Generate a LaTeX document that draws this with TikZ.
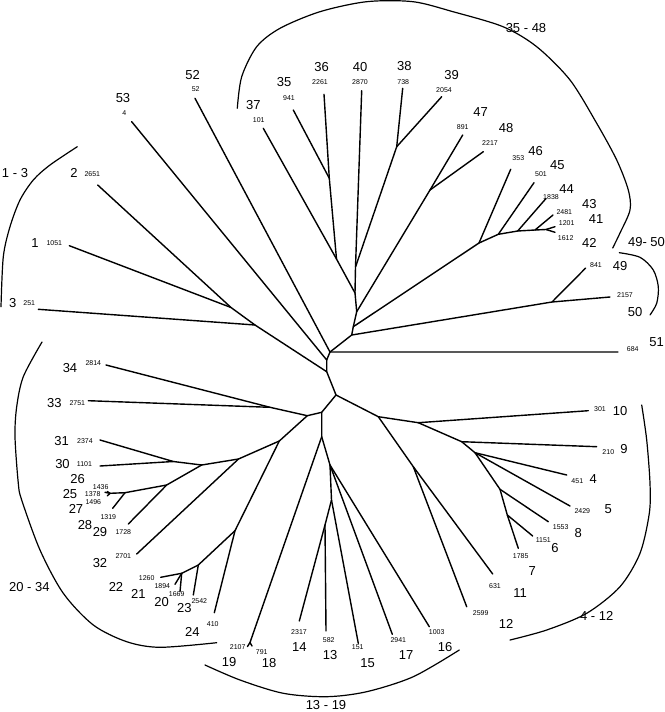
\documentclass[tikz,border=0pt]{standalone}
\usepackage{fontspec}
\setmainfont{Liberation Sans}
\tikzset{
  branch/.style={line width=1.4pt, line cap=round, line join=round},
  bracket/.style={line width=1.2pt, line cap=round},
  idlbl/.style={font=\fontsize{13}{15}\selectfont, inner sep=0pt},
  cntlbl/.style={font=\fontsize{7}{8}\selectfont, inner sep=0pt},
  grplbl/.style={font=\fontsize{13}{15}\selectfont, inner sep=0pt}
}
\begin{document}
\begin{tikzpicture}[x=1pt,y=-1pt]
  \useasboundingbox (0,0) rectangle (664,712);

  % tips
  \coordinate (t1) at (69.3,245.7);
  \coordinate (t2) at (97.7,185);
  \coordinate (t3) at (38.3,309.3);
  \coordinate (t4) at (566.7,475);
  \coordinate (t5) at (570,506);
  \coordinate (t6) at (532.7,536);
  \coordinate (t7) at (518.3,548.3);
  \coordinate (t8) at (548.3,521.7);
  \coordinate (t9) at (596.7,446.7);
  \coordinate (t10) at (588.3,410.7);
  \coordinate (t11) at (492.7,574);
  \coordinate (t12) at (466.7,606.7);
  \coordinate (t13) at (326,631);
  \coordinate (t14) at (299.3,621);
  \coordinate (t15) at (358.3,643.3);
  \coordinate (t16) at (429.3,626.7);
  \coordinate (t17) at (392.3,634.3);
  \coordinate (t18) at (252,646);
  \coordinate (t19) at (247.5,646.5);
  \coordinate (t20) at (180,591.7);
  \coordinate (t21) at (175,584.3);
  \coordinate (t22) at (160.7,577.3);
  \coordinate (t23) at (193.3,595);
  \coordinate (t24) at (214.3,612.7);
  \coordinate (t25) at (107.3,491.5);
  \coordinate (t26) at (105,492.3);
  \coordinate (t27) at (107.3,495.9);
  \coordinate (t28) at (112.7,508.3);
  \coordinate (t29) at (128.3,524);
  \coordinate (t30) at (100,466);
  \coordinate (t31) at (100,440);
  \coordinate (t32) at (136.7,554);
  \coordinate (t33) at (88.3,400.7);
  \coordinate (t34) at (106,365);
  \coordinate (t35) at (293.3,110);
  \coordinate (t36) at (324,94.3);
  \coordinate (t37) at (263.3,128.3);
  \coordinate (t38) at (402.7,88.3);
  \coordinate (t39) at (441.7,96.7);
  \coordinate (t40) at (361.7,90.7);
  \coordinate (t41) at (555,226.7);
  \coordinate (t42) at (555,232.3);
  \coordinate (t43) at (553,215);
  \coordinate (t44) at (546,198.5);
  \coordinate (t45) at (534,182.7);
  \coordinate (t46) at (510.7,169.3);
  \coordinate (t47) at (462.7,135);
  \coordinate (t48) at (483.3,151.7);
  \coordinate (t49) at (585.7,268);
  \coordinate (t50) at (610,297);
  \coordinate (t51) at (618,352);
  \coordinate (t52) at (195,98.3);
  \coordinate (t53) at (131.7,121.7);

  % inner nodes
  \coordinate (A) at (330,352);
  \coordinate (B) at (351.7,335);
  \coordinate (C) at (353.3,326.7);
  \coordinate (D) at (356.7,311.7);
  \coordinate (n3540) at (355,293);
  \coordinate (n3537) at (336.5,259);
  \coordinate (n3536) at (329.3,178.3);
  \coordinate (n3840) at (355.5,267);
  \coordinate (n3839) at (396.7,146.7);
  \coordinate (n4748) at (430,190);
  \coordinate (n4146) at (479,243);
  \coordinate (n4145) at (498.3,234.3);
  \coordinate (n4144) at (517.7,231);
  \coordinate (n4143) at (535,230);
  \coordinate (n4142) at (546,229.5);
  \coordinate (n4950) at (552,302);
  \coordinate (s53) at (326.7,360);
  \coordinate (s13) at (326.7,371.7);
  \coordinate (n123) at (255,325);
  \coordinate (n12) at (231,307.5);
  \coordinate (E) at (336,395);
  \coordinate (S1) at (321.7,412.3);
  \coordinate (S2) at (321.7,436.7);
  \coordinate (n1317) at (330,465);
  \coordinate (n1315) at (331.5,500);
  \coordinate (n1314) at (325,525);
  \coordinate (n1819) at (250,642.5);
  \coordinate (n412) at (378.3,416.7);
  \coordinate (n410) at (418.3,422.7);
  \coordinate (n49) at (461.7,441.7);
  \coordinate (n48) at (475,452.7);
  \coordinate (n68) at (500,489.3);
  \coordinate (n67) at (507.3,515);
  \coordinate (n1112) at (413.3,466.7);
  \coordinate (nL) at (307.3,415.7);
  \coordinate (n3334) at (270,407.3);
  \coordinate (nLL) at (279.3,441);
  \coordinate (n2024) at (235,530.7);
  \coordinate (n2023) at (198.3,565);
  \coordinate (n2022) at (181.7,573.3);
  \coordinate (n2532) at (238.5,459);
  \coordinate (n2531) at (201.7,465);
  \coordinate (n3031) at (173.3,461.5);
  \coordinate (n2529) at (166.7,485);
  \coordinate (n2528) at (125,492.7);
  \coordinate (n2527) at (110,493.3);

  % upper half
  \draw[branch] (t51) -- (A) -- (t52);
  \draw[branch] (A) -- (B) -- (C) -- (D) -- (n3540) -- (n3537) -- (n3536) -- (t36);
  \draw[branch] (n3536) -- (t35);
  \draw[branch] (n3537) -- (t37);
  \draw[branch] (n3540) -- (n3840) -- (n3839) -- (t38);
  \draw[branch] (n3839) -- (t39);
  \draw[branch] (n3840) -- (t40);
  \draw[branch] (D) -- (n4748) -- (t47);
  \draw[branch] (n4748) -- (t48);
  \draw[branch] (C) -- (n4146) -- (t46);
  \draw[branch] (n4146) -- (n4145) -- (n4144) -- (n4143) -- (n4142) -- (t42);
  \draw[branch] (n4145) -- (t45);
  \draw[branch] (n4144) -- (t44);
  \draw[branch] (n4143) -- (t43);
  \draw[branch] (n4142) -- (t41);
  \draw[branch] (B) -- (n4950) -- (t50);
  \draw[branch] (n4950) -- (t49);
  \draw[branch] (A) -- (s53) -- (t53);
  \draw[branch] (s53) -- (s13) -- (n123) -- (n12) -- (t2);
  \draw[branch] (n12) -- (t1);
  \draw[branch] (n123) -- (t3);

  % lower half
  \draw[branch] (s13) -- (E) -- (S1) -- (S2) -- (n1317) -- (n1315) -- (n1314) -- (t13);
  \draw[branch] (n1314) -- (t14);
  \draw[branch] (n1315) -- (t15);
  \draw[branch] (n1317) -- (t16);
  \draw[branch] (n1317) -- (t17);
  \draw[branch] (S2) -- (n1819) -- (t18);
  \draw[branch] (n1819) -- (t19);
  \draw[branch] (E) -- (n412) -- (n410) -- (t10);
  \draw[branch] (n410) -- (n49) -- (t9);
  \draw[branch] (n49) -- (n48) -- (t4);
  \draw[branch] (n48) -- (t5);
  \draw[branch] (n48) -- (n68) -- (t8);
  \draw[branch] (n68) -- (n67) -- (t6);
  \draw[branch] (n67) -- (t7);
  \draw[branch] (n412) -- (n1112) -- (t11);
  \draw[branch] (n1112) -- (t12);
  \draw[branch] (S1) -- (nL) -- (n3334) -- (t34);
  \draw[branch] (n3334) -- (t33);
  \draw[branch] (nL) -- (nLL) -- (n2024) -- (t24);
  \draw[branch] (n2024) -- (n2023) -- (t23);
  \draw[branch] (n2023) -- (n2022) -- (t22);
  \draw[branch] (n2022) -- (t21);
  \draw[branch] (n2022) -- (t20);
  \draw[branch] (nLL) -- (n2532) -- (t32);
  \draw[branch] (n2532) -- (n2531) -- (n3031) -- (t31);
  \draw[branch] (n3031) -- (t30);
  \draw[branch] (n2531) -- (n2529) -- (t29);
  \draw[branch] (n2529) -- (n2528) -- (t28);
  \draw[branch] (n2528) -- (n2527) -- (t26);
  \draw[branch] (n2527) -- (t25);
  \draw[branch] (n2527) -- (t27);

  % group brackets
  \draw[bracket] plot[smooth] coordinates {(77.3,146.7) (50,165) (33.3,180) (20,200) (10,226.7) (3.3,256.7) (1,306.7)};
  \draw[bracket] plot[smooth] coordinates {(237.3,108.3) (241.7,76.7) (256.7,46.7) (280,28.3) (320,11.7) (366.7,1.7) (413,1.7) (453,11.7) (503,26.7) (536.7,46.7) (570,80) (596.7,123.3) (616.7,160) (628.3,190) (630,210) (620,233) (612.7,248)};
  \draw[bracket] plot[smooth] coordinates {(619.3,252.7) (640,257.3) (653.3,270) (658.3,286.7) (656.7,303.3) (650,315)};
  \draw[bracket] plot[smooth] coordinates {(641.7,405) (646.7,440) (650,483.3) (649.3,513.3) (640,553.3) (620,586.7) (586.7,613.3) (546.7,630) (510,640)};
  \draw[bracket] plot[smooth] coordinates {(205,665) (240,680) (283.3,693.3) (326.7,696.7) (366.7,691.7) (413.3,676.7) (459.3,650)};
  \draw[bracket] plot[smooth] coordinates {(42,342) (23.3,376.7) (16.7,406.7) (15,436.7) (18.3,483.3) (21.7,500) (40,550) (63.3,593.3) (93.3,625) (126.7,641.7) (160,647.3) (216.7,642.7)};

  % group labels
  \node[grplbl] (g1) at (15,173.3) {1 - 3};
  \node[grplbl] (g2) at (526,28.3) {35 - 48};
  \node[grplbl] (g3) at (646.5,242.5) {49- 50};
  \node[grplbl] (g4) at (596.7,616) {4 - 12};
  \node[grplbl] (g5) at (326,705) {13 - 19};
  \node[grplbl] (g6) at (29.3,586.7) {20 - 34};

  % tip labels
  \node[idlbl] (l1) at (35,242.7) {1};      \node[cntlbl] (c1) at (54.3,243.3) {1051};
  \node[idlbl] (l2) at (74,173.3) {2};      \node[cntlbl] (c2) at (92.3,174) {2651};
  \node[idlbl] (l3) at (12.7,303.3) {3};    \node[cntlbl] (c3) at (29.3,303.3) {251};
  \node[idlbl] (l4) at (593.3,479.3) {4};   \node[cntlbl] (c4) at (577.3,480.7) {451};
  \node[idlbl] (l5) at (608.3,509.3) {5};   \node[cntlbl] (c5) at (582.3,510.7) {2429};
  \node[idlbl] (l6) at (555,547.7) {6};     \node[cntlbl] (c6) at (543.3,540) {1151};
  \node[idlbl] (l7) at (532.3,571) {7};     \node[cntlbl] (c7) at (520.7,555.7) {1785};
  \node[idlbl] (l8) at (578.3,532.7) {8};   \node[cntlbl] (c8) at (560.7,527.3) {1553};
  \node[idlbl] (l9) at (624,449.3) {9};     \node[cntlbl] (c9) at (608.3,451.7) {210};
  \node[idlbl] (l10) at (620,410.7) {10};   \node[cntlbl] (c10) at (600,409.3) {301};
  \node[idlbl] (l11) at (520,593.3) {11};   \node[cntlbl] (c11) at (495,586) {631};
  \node[idlbl] (l12) at (506,624.3) {12};   \node[cntlbl] (c12) at (480.7,613.3) {2599};
  \node[idlbl] (l13) at (330,655) {13};     \node[cntlbl] (c13) at (328.7,640) {582};
  \node[idlbl] (l14) at (299.3,647.3) {14}; \node[cntlbl] (c14) at (299,631.7) {2317};
  \node[idlbl] (l15) at (367.7,662.7) {15}; \node[cntlbl] (c15) at (357.7,647.3) {151};
  \node[idlbl] (l16) at (445,646.7) {16};   \node[cntlbl] (c16) at (436.7,631.7) {1003};
  \node[idlbl] (l17) at (406,655) {17};     \node[cntlbl] (c17) at (398.3,640) {2941};
  \node[idlbl] (l18) at (269,663.3) {18};   \node[cntlbl] (c18) at (261.7,652.3) {791};
  \node[idlbl] (l19) at (229,661.7) {19};   \node[cntlbl] (c19) at (237.7,647.3) {2107};
  \node[idlbl] (l20) at (161.7,601.7) {20}; \node[cntlbl] (c20) at (176.7,594) {1669};
  \node[idlbl] (l21) at (138.3,594.3) {21}; \node[cntlbl] (c21) at (162.3,586) {1894};
  \node[idlbl] (l22) at (116,586.7) {22};   \node[cntlbl] (c22) at (146.7,578.3) {1260};
  \node[idlbl] (l23) at (184.3,608.3) {23}; \node[cntlbl] (c23) at (199.3,601) {2542};
  \node[idlbl] (l24) at (192.3,632.3) {24}; \node[cntlbl] (c24) at (212.7,624.3) {410};
  \node[idlbl] (l25) at (70,494.3) {25};    \node[cntlbl] (c25) at (92.7,494.3) {1378};
  \node[idlbl] (l26) at (77.7,479.3) {26};  \node[cntlbl] (c26) at (100.7,486.7) {1436};
  \node[idlbl] (l27) at (76,508.5) {27};    \node[cntlbl] (c27) at (93.3,502.3) {1496};
  \node[idlbl] (l28) at (85,525) {28};      \node[cntlbl] (c28) at (108.3,516.7) {1319};
  \node[idlbl] (l29) at (100,532.3) {29};   \node[cntlbl] (c29) at (123.3,532.3) {1728};
  \node[idlbl] (l30) at (62.5,464.3) {30};  \node[cntlbl] (c30) at (84.5,464.5) {1101};
  \node[idlbl] (l31) at (61.7,441) {31};    \node[cntlbl] (c31) at (85,441) {2374};
  \node[idlbl] (l32) at (100,563.3) {32};   \node[cntlbl] (c32) at (123.3,555.7) {2701};
  \node[idlbl] (l33) at (54.3,402.7) {33};  \node[cntlbl] (c33) at (77.3,402.7) {2751};
  \node[idlbl] (l34) at (70,367.7) {34};    \node[cntlbl] (c34) at (93.3,363.3) {2814};
  \node[idlbl] (l35) at (284,81.7) {35};    \node[cntlbl] (c35) at (289,98.3) {941};
  \node[idlbl] (l36) at (321.7,66.7) {36};  \node[cntlbl] (c36) at (320,81.7) {2261};
  \node[idlbl] (l37) at (253.3,105) {37};   \node[cntlbl] (c37) at (258.7,120) {101};
  \node[idlbl] (l38) at (404.3,66) {38};    \node[cntlbl] (c38) at (403.3,81.7) {738};
  \node[idlbl] (l39) at (451.7,75) {39};    \node[cntlbl] (c39) at (444,90) {2054};
  \node[idlbl] (l40) at (360,66.7) {40};    \node[cntlbl] (c40) at (360,81.7) {2870};
  \node[idlbl] (l41) at (596,219) {41};     \node[cntlbl] (c41) at (566.7,222.7) {1201};
  \node[idlbl] (l42) at (589.3,242.7) {42}; \node[cntlbl] (c42) at (565.7,238.3) {1612};
  \node[idlbl] (l43) at (589.3,204.3) {43}; \node[cntlbl] (c43) at (564.3,212.3) {2481};
  \node[idlbl] (l44) at (566.7,189.3) {44}; \node[cntlbl] (c44) at (551,196.7) {1838};
  \node[idlbl] (l45) at (557.3,165) {45};   \node[cntlbl] (c45) at (541,174) {501};
  \node[idlbl] (l46) at (535.7,150.7) {46}; \node[cntlbl] (c46) at (518.3,158.3) {353};
  \node[idlbl] (l47) at (480.7,111.7) {47}; \node[cntlbl] (c47) at (462.7,127.3) {891};
  \node[idlbl] (l48) at (506,127.7) {48};   \node[cntlbl] (c48) at (490,143.3) {2217};
  \node[idlbl] (l49) at (620,266) {49};     \node[cntlbl] (c49) at (596,265) {841};
  \node[idlbl] (l50) at (635,311.7) {50};   \node[cntlbl] (c50) at (625,295) {2157};
  \node[idlbl] (l51) at (656.7,341.7) {51}; \node[cntlbl] (c51) at (632.7,349.3) {684};
  \node[idlbl] (l52) at (192.7,75) {52};    \node[cntlbl] (c52) at (195.7,89.3) {52};
  \node[idlbl] (l53) at (123,98) {53};      \node[cntlbl] (c53) at (124.3,112.7) {4};
\end{tikzpicture}
\end{document}
